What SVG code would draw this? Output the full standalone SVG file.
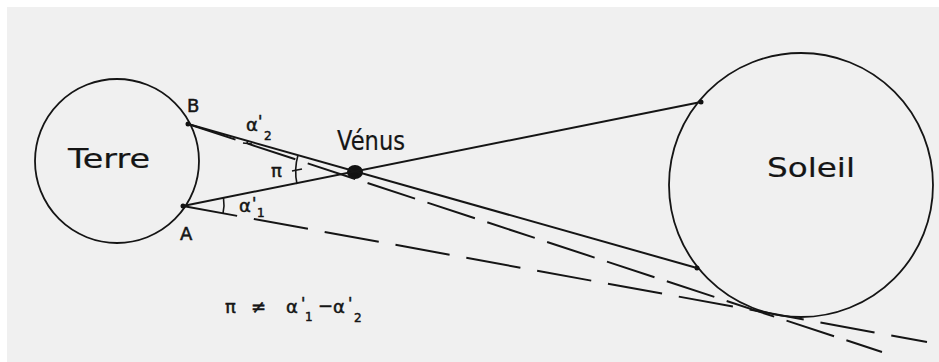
<svg xmlns="http://www.w3.org/2000/svg" width="939" height="362" viewBox="0 0 939 362">
<style>
.body{fill:none;stroke:#151515;stroke-width:1.8}
.solid{fill:none;stroke:#151515;stroke-width:2}
.dash1{fill:none;stroke:#151515;stroke-width:2;stroke-dasharray:55 17}
.dash2{fill:none;stroke:#151515;stroke-width:2;stroke-dasharray:50 13}
.arc{fill:none;stroke:#151515;stroke-width:1.6}
.pt{fill:#111}
text{font-family:"DejaVu Sans","Liberation Sans",sans-serif;fill:#151515;stroke:#151515;stroke-width:0.5}
.big{font-size:26px;stroke-width:0.2}
.lbl{font-size:18px}
.gr{font-size:18px}
.pr{font-size:16px}
.sm{font-size:12px}
</style>
<rect x="0" y="0" width="939" height="362" fill="#ffffff"/>
<rect x="7" y="7" width="932" height="355" fill="#f0f0f0"/>

<g id="terre">
<circle class="body" cx="117" cy="161" r="82"/>
<text class="big" x="68" y="168" textLength="82" lengthAdjust="spacingAndGlyphs">Terre</text>
<circle class="pt" cx="188" cy="124" r="2.5"/>
<circle class="pt" cx="183" cy="206" r="2.5"/>
<text class="lbl" x="187" y="112">B</text>
<text class="lbl" x="180" y="240">A</text>
</g>

<g id="soleil">
<circle class="body" cx="801" cy="185" r="132"/>
<text class="big" x="767" y="177" textLength="88" lengthAdjust="spacingAndGlyphs">Soleil</text>
<circle class="pt" cx="701" cy="102" r="2.5"/>
<circle class="pt" cx="697" cy="268" r="2.5"/>
</g>

<g id="venus">
<ellipse class="pt" cx="355" cy="172" rx="8" ry="7"/>
<text class="big" x="337" y="150" textLength="68" lengthAdjust="spacingAndGlyphs">Vénus</text>
</g>

<g id="connectors">
<line class="solid" x1="188" y1="124" x2="697" y2="268"/>
<line class="solid" x1="183" y1="206" x2="701" y2="102"/>
<line class="dash1" x1="183" y1="206" x2="927" y2="342"/>
<line class="dash2" x1="188" y1="124" x2="882" y2="352"/>
</g>

<g id="angles">
<path class="arc" d="M298,155 A59.5,59.5 0 0 0 297,184"/>
<line class="arc" x1="292" y1="171" x2="302" y2="169"/>
<path class="arc" d="M223.5,198 A41.3,41.3 0 0 1 223,213.5"/>
<path class="arc" d="M247.6,140.5 A62,62 0 0 1 246.9,144"/>
<line class="arc" x1="243" y1="143" x2="252" y2="144"/>
<text class="gr" x="271" y="177" font-size="16">π</text>
<text class="gr" x="239" y="212">α</text>
<text class="pr" x="252" y="209">'</text>
<text class="sm" x="257" y="217">1</text>
<text class="gr" x="246" y="131">α</text>
<text class="pr" x="258" y="127">'</text>
<text class="sm" x="264" y="140">2</text>
</g>

<g id="formula">
<text class="gr" x="225" y="313" font-size="21">π</text>
<text class="lbl" x="251" y="313" font-size="22">≠</text>
<text class="gr" x="286" y="313" font-size="20">α</text>
<text class="pr" x="301" y="309" font-size="17">'</text>
<text class="sm" x="305" y="321" font-size="13">1</text>
<text class="lbl" x="318" y="312">−</text>
<text class="gr" x="333" y="313" font-size="20">α</text>
<text class="pr" x="348" y="309" font-size="17">'</text>
<text class="sm" x="354" y="322" font-size="14">2</text>
</g>
</svg>
